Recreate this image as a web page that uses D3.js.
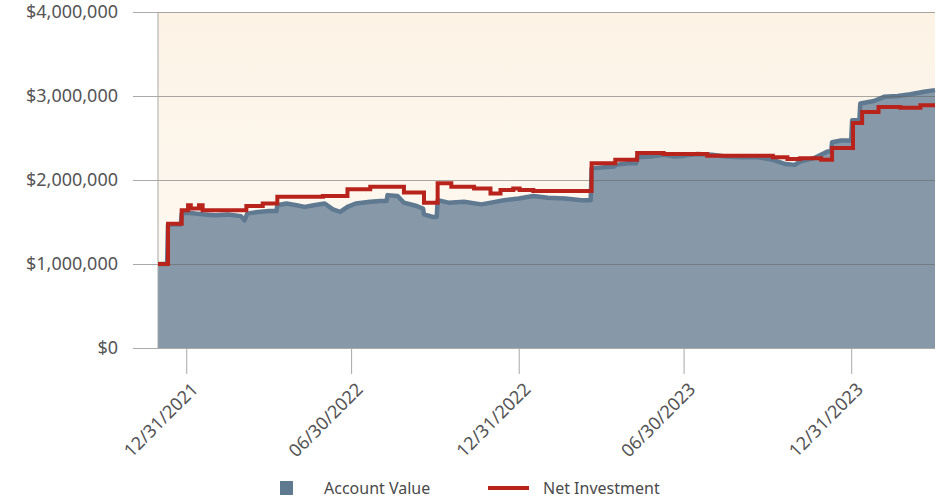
<!DOCTYPE html>
<html>
<head>
<meta charset="utf-8">
<script src="https://cdn.jsdelivr.net/npm/d3@7"></script>
<style>
  body { margin: 0; background: #fff; }
  #chart { width: 940px; height: 500px; }
  .axis-label { font-family: "Noto Sans", sans-serif; font-size: 18px; fill: #555; }
  .legend-label { font-family: "Noto Sans", sans-serif; font-size: 16px; fill: #4a4a4a; }
</style>
</head>
<body>
<div id="chart"></div>
<script>
// Net investment, step changes (date, value)
const netDates = [
  '2021-11-30', '2021-12-11', '2021-12-26', '2022-01-02', '2022-01-05', '2022-01-14',
  '2022-01-18', '2022-03-07', '2022-03-25', '2022-04-10', '2022-05-30', '2022-06-26',
  '2022-07-21', '2022-08-27', '2022-09-18', '2022-10-03', '2022-10-18', '2022-11-12',
  '2022-11-30', '2022-12-11', '2022-12-25', '2023-01-01', '2023-01-16', '2023-03-21',
  '2023-04-16', '2023-05-10', '2023-06-08', '2023-07-26', '2023-10-06', '2023-10-22',
  '2023-11-05', '2023-11-28', '2023-12-10', '2024-01-02', '2024-01-12', '2024-01-30',
  '2024-02-23', '2024-03-16', '2024-04-01'
];
const netValues = [
  1000000, 1480000, 1640000, 1700000, 1660000, 1700000,
  1640000, 1690000, 1720000, 1800000, 1810000, 1890000,
  1920000, 1850000, 1730000, 1960000, 1920000, 1900000,
  1840000, 1880000, 1900000, 1880000, 1870000, 2200000,
  2240000, 2320000, 2310000, 2290000, 2270000, 2250000,
  2260000, 2240000, 2380000, 2680000, 2810000, 2870000,
  2860000, 2890000, 2890000
];

// Account value
const acctDates = [
  '2021-11-30', '2021-12-10', '2021-12-11', '2021-12-25', '2021-12-26', '2022-01-02',
  '2022-01-10', '2022-01-20', '2022-02-01', '2022-02-15', '2022-03-01', '2022-03-05',
  '2022-03-08', '2022-03-20', '2022-04-01', '2022-04-09', '2022-04-10', '2022-04-20',
  '2022-05-01', '2022-05-10', '2022-05-20', '2022-06-01', '2022-06-10', '2022-06-18',
  '2022-06-26', '2022-07-05', '2022-07-21', '2022-08-01', '2022-08-08', '2022-08-09',
  '2022-08-20', '2022-08-27', '2022-09-10', '2022-09-17', '2022-09-18', '2022-09-28',
  '2022-10-02', '2022-10-03', '2022-10-15', '2022-11-01', '2022-11-20', '2022-12-05',
  '2022-12-15', '2022-12-31', '2023-01-16', '2023-02-01', '2023-02-20', '2023-03-10',
  '2023-03-20', '2023-03-21', '2023-04-01', '2023-04-15', '2023-04-16', '2023-04-30',
  '2023-05-09', '2023-05-10', '2023-05-25', '2023-06-08', '2023-06-20', '2023-07-01',
  '2023-07-15', '2023-07-31', '2023-08-15', '2023-09-01', '2023-09-20', '2023-10-06',
  '2023-10-20', '2023-10-30', '2023-11-05', '2023-11-20', '2023-12-05', '2023-12-09',
  '2023-12-10', '2023-12-20', '2023-12-31', '2024-01-01', '2024-01-09', '2024-01-10',
  '2024-01-25', '2024-02-05', '2024-02-20', '2024-03-05', '2024-03-20', '2024-04-01'
];
const acctValues = [
  1000000, 1000000, 1470000, 1470000, 1600000, 1610000,
  1600000, 1590000, 1580000, 1590000, 1570000, 1520000,
  1600000, 1620000, 1630000, 1630000, 1700000, 1720000,
  1700000, 1680000, 1700000, 1720000, 1650000, 1620000,
  1680000, 1720000, 1740000, 1750000, 1750000, 1820000,
  1810000, 1730000, 1690000, 1660000, 1590000, 1560000,
  1560000, 1760000, 1730000, 1740000, 1710000, 1740000,
  1760000, 1780000, 1810000, 1790000, 1780000, 1760000,
  1760000, 2140000, 2150000, 2160000, 2180000, 2200000,
  2200000, 2270000, 2280000, 2300000, 2280000, 2290000,
  2310000, 2300000, 2280000, 2270000, 2270000, 2240000,
  2190000, 2180000, 2220000, 2260000, 2340000, 2340000,
  2450000, 2470000, 2470000, 2710000, 2710000, 2910000,
  2940000, 2990000, 3000000, 3020000, 3050000, 3070000
];

const yTicks = [0, 1000000, 2000000, 3000000, 4000000];
const xTickDates = ['2021-12-31', '2022-06-30', '2022-12-31', '2023-06-30', '2023-12-31'];
const legendLabels = ['Account Value', 'Net Investment'];

const parse = d3.timeParse('%Y-%m-%d');
const net = netDates.map((d, i) => ({ date: parse(d), value: netValues[i] }));
const acct = acctDates.map((d, i) => ({ date: parse(d), value: acctValues[i] }));

const width = 940, height = 500;
const margin = { top: 12, right: 5, bottom: 152, left: 158 };
const w = width - margin.left - margin.right;
const h = height - margin.top - margin.bottom;

const svg = d3.select('#chart').append('svg')
  .attr('width', width).attr('height', height);

const defs = svg.append('defs');
const grad = defs.append('linearGradient').attr('id', 'bg')
  .attr('x1', 0).attr('y1', 0).attr('x2', 0).attr('y2', 1);
grad.append('stop').attr('offset', '0%').attr('stop-color', '#fcf3e5');
grad.append('stop').attr('offset', '100%').attr('stop-color', '#fefaf5');

const g = svg.append('g').attr('transform', `translate(${margin.left},${margin.top})`);

const x = d3.scaleTime()
  .domain([parse('2021-11-30'), parse('2024-04-01')])
  .range([0, w]);
const y = d3.scaleLinear().domain([0, 4000000]).range([h, 0]);

// plot background
g.append('rect').attr('width', w).attr('height', h).attr('fill', 'url(#bg)');

// account value area
const area = d3.area()
  .x(d => x(d.date)).y0(h).y1(d => y(d.value));
g.append('path').datum(acct)
  .attr('d', area).attr('fill', '#8799a8');

const acctLine = d3.line().x(d => x(d.date)).y(d => y(d.value));
g.append('path').datum(acct)
  .attr('d', acctLine)
  .attr('fill', 'none').attr('stroke', '#5f7991').attr('stroke-width', 4.5)
  .attr('stroke-linejoin', 'round');

// grid lines on top of area
g.append('g')
  .call(d3.axisLeft(y).tickValues(yTicks).tickSize(-w - 25).tickFormat(''))
  .attr('transform', 'translate(-25,0)')
  .call(s => s.select('.domain').remove())
  .call(s => s.selectAll('line').attr('stroke', 'rgba(100,100,100,0.55)'));

// y axis labels
g.append('g').selectAll('text').data(yTicks).join('text')
  .attr('class', 'axis-label')
  .attr('x', -40).attr('y', d => y(d)).attr('dy', '0.35em')
  .attr('text-anchor', 'end')
  .text(d => d3.format('$,')(d));

// y axis line
g.append('line').attr('x1', 0).attr('x2', 0).attr('y1', 0).attr('y2', h)
  .attr('stroke', '#a8a8a8');

// net investment line
const netLine = d3.line().x(d => x(d.date)).y(d => y(d.value)).curve(d3.curveStepAfter);
g.append('path').datum(net)
  .attr('d', netLine)
  .attr('fill', 'none').attr('stroke', '#b8231c').attr('stroke-width', 4)
  .attr('stroke-linejoin', 'miter');

// x axis
const xAxis = g.append('g').attr('transform', `translate(0,${h})`)
  .call(d3.axisBottom(x).tickValues(xTickDates.map(parse)).tickSize(26).tickFormat(d3.timeFormat('%m/%d/%Y')));
xAxis.select('.domain').remove();
xAxis.selectAll('line').attr('stroke', '#a8a8a8');
xAxis.selectAll('text')
  .attr('class', 'axis-label')
  .attr('text-anchor', 'end')
  .attr('transform', 'translate(8,38) rotate(-45)')
  .attr('dy', '0.35em').attr('y', 0).attr('x', 0);

// legend
const legend = svg.append('g').attr('transform', 'translate(0,488)');
legend.append('rect').attr('x', 280).attr('y', -7).attr('width', 13).attr('height', 14).attr('fill', '#5f7991');
legend.append('text').attr('class', 'legend-label').attr('x', 324).attr('dy', '0.35em').text(legendLabels[0]);
legend.append('line').attr('x1', 488).attr('x2', 529).attr('y1', 0).attr('y2', 0)
  .attr('stroke', '#b8231c').attr('stroke-width', 4);
legend.append('text').attr('class', 'legend-label').attr('x', 543).attr('dy', '0.35em').text(legendLabels[1]);
</script>
</body>
</html>
